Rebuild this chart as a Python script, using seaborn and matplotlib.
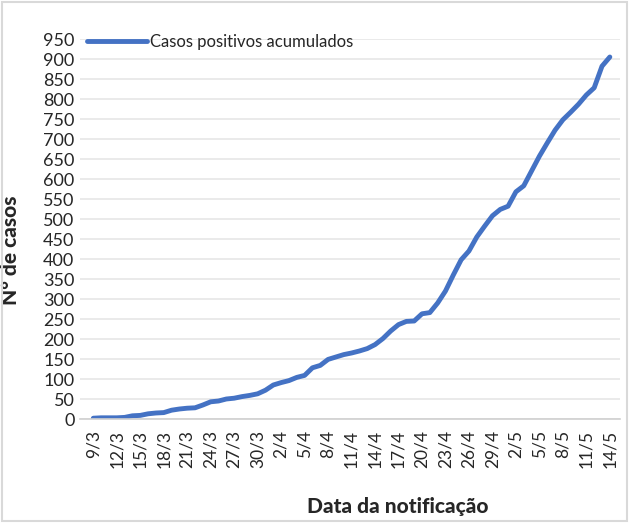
import matplotlib
matplotlib.use("Agg")
import matplotlib.pyplot as plt
import matplotlib.patches as mpatches
import pandas as pd
import seaborn as sns

# daily dates 9/3 .. 14/5
march = [f"{d}/3" for d in range(9, 32)]
april = [f"{d}/4" for d in range(1, 31)]
may = [f"{d}/5" for d in range(1, 15)]
dates = march + april + may

cases = [2, 3, 3, 3, 4, 8, 9, 13, 15, 16,
         22, 25, 27, 28, 35, 43, 45, 50, 52, 56,
         59, 63, 72, 85, 91, 96, 104, 109, 128, 134,
         149, 155, 161, 165, 170, 176, 186, 201, 220, 236,
         244, 245, 263, 266, 290, 320, 360, 398, 420, 455,
         482, 508, 524, 532, 568, 583, 620, 657, 690, 722,
         748, 767, 787, 810, 828, 882, 905]

series_name = "Casos positivos acumulados"
y_ticks = list(range(0, 951, 50))

df = pd.DataFrame({"dia": range(len(dates)), "casos": cases})

sns.set_style("white")
plt.rcParams["font.family"] = ["Lato", "DejaVu Sans"]

fig = plt.figure(figsize=(6.29, 5.23), dpi=100)
ax = fig.add_axes([80 / 629, 104 / 523, 540 / 629, 380 / 523])

sns.lineplot(data=df, x="dia", y="casos", ax=ax, color="#4472C4",
             linewidth=3.5, label=series_name)

ax.set_xlim(-1.7, 67.3)
ax.set_ylim(0, 950)
ax.set_yticks(y_ticks)
ax.set_yticklabels([str(v) for v in y_ticks], fontsize=13)
ax.yaxis.grid(True, color="#e6e6e6", linewidth=1.2)
ax.xaxis.grid(False)

tick_pos = list(range(0, len(dates), 3))
ax.set_xticks(tick_pos)
ax.set_xticklabels([dates[i] for i in tick_pos], rotation=90, fontsize=12.5)
ax.tick_params(axis="x", direction="out", length=5, color="#d0d0d0", width=1, pad=3)
ax.tick_params(axis="y", length=0, pad=4)

for s in ["top", "right", "left"]:
    ax.spines[s].set_visible(False)
ax.spines["bottom"].set_color("#d0d0d0")
ax.spines["bottom"].set_linewidth(1.2)

ax.set_xlabel("")
ax.set_ylabel("N° de casos", fontsize=15, fontweight="black")
ax.yaxis.set_label_coords(-0.112, 0.445)
fig.text(398 / 629, 16 / 523, "Data da notificação", ha="center", va="center",
         fontsize=15, fontweight="black")

ax.legend(loc="upper left", bbox_to_anchor=(0.0, 1.03), frameon=False,
          fontsize=12, handlelength=3.6, handletextpad=0.2, borderaxespad=0)

fig.patches.append(mpatches.Rectangle((0.003, 0.003), 0.994, 0.994,
                                      transform=fig.transFigure, fill=False,
                                      edgecolor="#d9d9d9", linewidth=1.5))

fig.savefig("out.png", dpi=100)
